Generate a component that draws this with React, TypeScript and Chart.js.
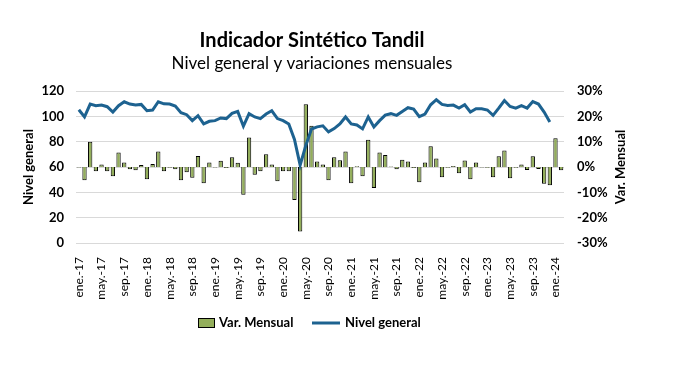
import React, { useEffect, useRef } from "react";
import { Chart, registerables } from "chart.js";

Chart.register(...registerables);

const MONTHS = ["ene.", "feb.", "mar.", "abr.", "may.", "jun.", "jul.", "ago.", "sep.", "oct.", "nov.", "dic."];
const YEARS = ["17", "18", "19", "20", "21", "22", "23", "24"];
const CATEGORIES = YEARS.flatMap((y) => MONTHS.map((m) => `${m}-${y}`)).slice(0, 86);

const NIVEL_GENERAL = [
  105.2, 99.5, 109.7, 108.4, 108.9, 107.6, 103.4, 108.4, 111.5, 109.7, 108.9, 109.4,
  104.4, 105.0, 111.5, 109.9, 109.7, 108.1, 102.9, 101.3, 96.6, 100.5, 94.0, 96.1,
  96.6, 98.7, 98.2, 102.3, 103.9, 92.2, 102.1, 99.5, 98.2, 101.8, 104.4, 98.2,
  96.6, 94.0, 81.7, 61.5, 77.0, 90.0, 91.7, 92.5, 87.7, 90.3, 94.0, 99.5,
  94.0, 93.2, 90.1, 99.5, 91.6, 96.6, 101.0, 102.1, 100.8, 103.9, 106.8, 105.7,
  99.7, 101.8, 109.1, 113.1, 109.4, 108.6, 108.9, 106.5, 109.1, 103.4, 106.0, 106.0,
  105.0, 100.8, 106.5, 112.5, 107.8, 106.5, 108.4, 106.5, 111.7, 109.7, 103.4, 95.6,
  null, null,
];

const VAR_MENSUAL = [
  -0.2, -5.2, 10.0, -1.7, 1.0, -1.7, -3.7, 5.7, 1.8, -0.9, -1.3, 0.8,
  -4.8, 1.2, 6.1, -1.7, -0.3, -0.9, -5.2, -2.1, -4.2, 4.3, -6.4, 1.8,
  -0.2, 2.5, -0.4, 3.8, 1.7, -11.0, 11.6, -3.1, -1.7, 5.0, 1.0, -5.6,
  -1.7, -1.7, -13.0, -25.5, 24.8, 16.3, 2.2, 1.0, -5.2, 3.8, 2.7, 6.1,
  -6.4, 0.3, -3.7, 10.8, -8.3, 5.7, 4.7, 0.2, -0.9, 2.9, 2.2, -0.4,
  -6.0, 1.8, 8.2, 3.4, -4.0, -0.3, 0.4, -2.5, 2.6, -4.8, 1.8, -0.2,
  -0.3, -4.0, 4.2, 6.5, -4.4, -0.3, 1.0, -1.2, 4.2, -0.8, -6.6, -7.2,
  11.3, -1.3,
];

const LEFT_TICKS = { min: 0, max: 120, step: 20 };
const RIGHT_TICKS = { min: -30, max: 30, step: 10 };

const TITLE = "Indicador Sintético Tandil";
const SUBTITLE = "Nivel general y variaciones mensuales";
const LEFT_TITLE = "Nivel general";
const RIGHT_TITLE = "Var. Mensual";

const BAR_COLOR = "#93AE5B";
const LINE_COLOR = "#1D6290";
const FONT = "Lato, 'Open Sans', sans-serif";

const decorPlugin = {
  id: "decor",
  afterDraw(chart: any) {
    const ctx = chart.ctx;
    ctx.save();
    ctx.fillStyle = "#000";
    ctx.textAlign = "center";
    ctx.textBaseline = "middle";
    ctx.font = `bold 20px ${FONT}`;
    ctx.fillText(TITLE, 312, 41);
    ctx.font = `17px ${FONT}`;
    ctx.fillText(SUBTITLE, 312, 64);

    ctx.font = `bold 13px ${FONT}`;
    ctx.save();
    ctx.translate(29, 167);
    ctx.rotate(-Math.PI / 2);
    ctx.fillText(LEFT_TITLE, 0, 0);
    ctx.restore();
    ctx.save();
    ctx.translate(621, 167);
    ctx.rotate(-Math.PI / 2);
    ctx.fillText(RIGHT_TITLE, 0, 0);
    ctx.restore();

    // legend
    const ly = 323;
    ctx.fillStyle = BAR_COLOR;
    ctx.fillRect(198, ly - 5, 17, 10);
    ctx.strokeStyle = "#000";
    ctx.lineWidth = 1;
    ctx.strokeRect(198.5, ly - 4.5, 16, 9);
    ctx.fillStyle = "#000";
    ctx.textAlign = "left";
    ctx.font = `bold 13px ${FONT}`;
    ctx.fillText(chart.data.datasets[0].label, 219, ly);
    ctx.strokeStyle = LINE_COLOR;
    ctx.lineWidth = 3;
    ctx.beginPath();
    ctx.moveTo(312, ly);
    ctx.lineTo(340, ly);
    ctx.stroke();
    ctx.fillText(chart.data.datasets[1].label, 345, ly);
    ctx.restore();
  },
};

export default function App() {
  const ref = useRef<HTMLCanvasElement | null>(null);
  useEffect(() => {
    document.body.style.margin = "0";
    if (!ref.current) return;
    const chart = new Chart(ref.current, {
      type: "bar",
      data: {
        labels: CATEGORIES,
        datasets: [
          {
            type: "bar",
            label: "Var. Mensual",
            data: VAR_MENSUAL,
            yAxisID: "y1",
            backgroundColor: BAR_COLOR,
            borderColor: "#000",
            borderWidth: 1,
            barPercentage: 0.76,
            categoryPercentage: 1,
            order: 2,
          } as any,
          {
            type: "line",
            label: "Nivel general",
            data: NIVEL_GENERAL,
            yAxisID: "y",
            borderColor: LINE_COLOR,
            borderWidth: 3,
            pointRadius: 0,
            tension: 0,
            spanGaps: false,
            order: 1,
          } as any,
        ],
      },
      options: {
        animation: false,
        responsive: false,
        layout: { padding: { top: 91, bottom: 70, left: 0, right: 0 } },
        plugins: { legend: { display: false }, tooltip: { enabled: false }, title: { display: false } },
        scales: {
          x: {
            offset: true,
            grid: { display: false },
            border: { display: false },
            ticks: {
              autoSkip: false,
              minRotation: 90,
              maxRotation: 90,
              padding: 6,
              color: "#000",
              font: { family: FONT, size: 12 },
              callback: (_v: any, i: number) => (i % 4 === 0 ? CATEGORIES[i] : ""),
            },
            afterFit: (s: any) => {
              s.height = 60;
            },
          },
          y: {
            position: "left",
            min: LEFT_TICKS.min,
            max: LEFT_TICKS.max,
            grid: { color: "#d9d9d9", drawTicks: false, lineWidth: 1 },
            border: { display: false },
            ticks: {
              stepSize: LEFT_TICKS.step,
              padding: 12,
              color: "#000",
              font: { family: FONT, size: 13, weight: "bold" },
            },
            afterFit: (s: any) => {
              s.width = 76;
            },
          },
          y1: {
            position: "right",
            min: RIGHT_TICKS.min,
            max: RIGHT_TICKS.max,
            grid: { display: false, drawTicks: false },
            border: { display: false },
            ticks: {
              stepSize: RIGHT_TICKS.step,
              padding: 13,
              color: "#000",
              font: { family: FONT, size: 13, weight: "bold" },
              callback: (v: any) => `${v}%`,
            },
            afterFit: (s: any) => {
              s.width = 110;
            },
          },
        },
      } as any,
      plugins: [decorPlugin],
    });
    return () => chart.destroy();
  }, []);
  return (
    <div style={{ width: 674, height: 373, background: "#fff" }}>
      <canvas ref={ref} width={674} height={373} style={{ display: "block" }} />
    </div>
  );
}
